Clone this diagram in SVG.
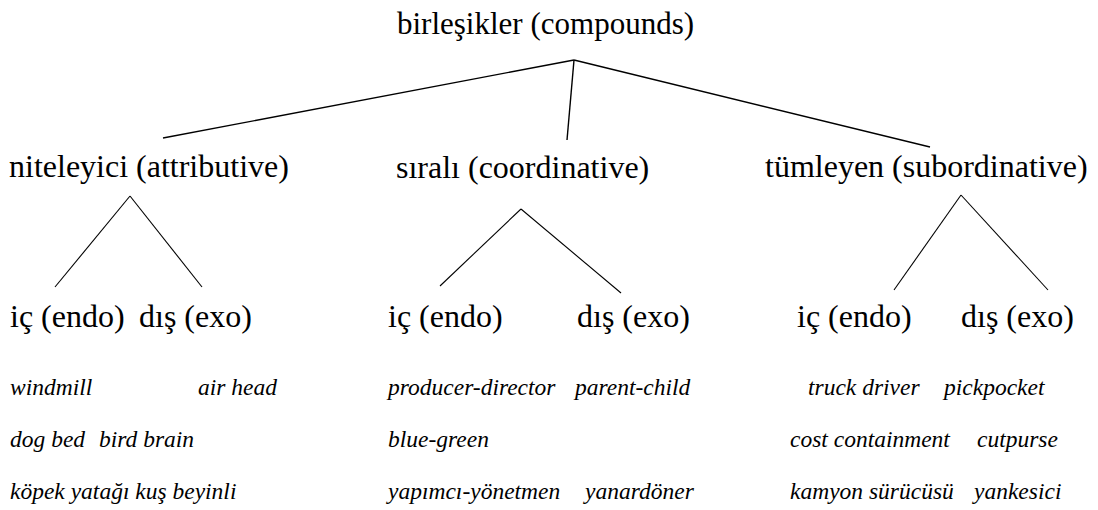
<svg xmlns="http://www.w3.org/2000/svg" width="1098" height="510" viewBox="0 0 1098 510">
  <style>
    text { font-family: "Liberation Serif", "Times New Roman", Times, serif; fill: #000; }
    .root-label { font-size: 31px; }
    .head { font-size: 32px; }
    .ex { font-size: 23.5px; font-style: italic; }
    .edge { stroke: #000; fill: none; stroke-linecap: butt; }
    .edge-top { stroke-width: 1.4; }
    .edge-low { stroke-width: 1.1; }
  </style>
  <rect x="0" y="0" width="1098" height="510" fill="#ffffff"/>

  <!-- connectors -->
  <g id="connectors">
    <line class="edge edge-top" x1="574" y1="60" x2="163" y2="138"/>
    <line class="edge edge-top" x1="574" y1="60" x2="567" y2="140"/>
    <line class="edge edge-top" x1="574" y1="60" x2="930" y2="147"/>
    <line class="edge edge-low" x1="130" y1="196" x2="55" y2="287"/>
    <line class="edge edge-low" x1="130" y1="196" x2="202" y2="287"/>
    <line class="edge edge-low" x1="521" y1="209" x2="440" y2="286"/>
    <line class="edge edge-low" x1="521" y1="209" x2="621" y2="293"/>
    <line class="edge edge-low" x1="961" y1="195" x2="894" y2="290"/>
    <line class="edge edge-low" x1="961" y1="195" x2="1048" y2="290"/>
  </g>

  <!-- root -->
  <g id="root">
    <text class="root-label" x="397" y="34">birleşikler (compounds)</text>
  </g>

  <!-- second level -->
  <g id="attributive">
    <text class="head" x="9" y="177">niteleyici (attributive)</text>
  </g>
  <g id="coordinative">
    <text class="head" x="396" y="178">sıralı (coordinative)</text>
  </g>
  <g id="subordinative">
    <text class="head" x="765" y="177">tümleyen (subordinative)</text>
  </g>

  <!-- third level -->
  <g id="attr-endo"><text class="head" x="10" y="327">iç (endo)</text></g>
  <g id="attr-exo"><text class="head" x="139" y="327">dış (exo)</text></g>
  <g id="coord-endo"><text class="head" x="388" y="327">iç (endo)</text></g>
  <g id="coord-exo"><text class="head" x="577" y="327">dış (exo)</text></g>
  <g id="sub-endo"><text class="head" x="797" y="327">iç (endo)</text></g>
  <g id="sub-exo"><text class="head" x="961" y="327">dış (exo)</text></g>

  <!-- example rows -->
  <g id="examples-attributive">
    <text class="ex" x="10" y="395">windmill</text>
    <text class="ex" x="198" y="395">air head</text>
    <text class="ex" x="10" y="447">dog bed</text>
    <text class="ex" x="99" y="447">bird brain</text>
    <text class="ex" x="10" y="499">köpek yatağı kuş beyinli</text>
  </g>
  <g id="examples-coordinative">
    <text class="ex" x="388" y="395">producer-director</text>
    <text class="ex" x="575" y="395">parent-child</text>
    <text class="ex" x="388" y="447">blue-green</text>
    <text class="ex" x="388" y="499">yapımcı-yönetmen</text>
    <text class="ex" x="585" y="499">yanardöner</text>
  </g>
  <g id="examples-subordinative">
    <text class="ex" x="808" y="395">truck driver</text>
    <text class="ex" x="944" y="395">pickpocket</text>
    <text class="ex" x="790" y="447">cost containment</text>
    <text class="ex" x="977" y="447">cutpurse</text>
    <text class="ex" x="790" y="499">kamyon sürücüsü</text>
    <text class="ex" x="974" y="499">yankesici</text>
  </g>
</svg>
